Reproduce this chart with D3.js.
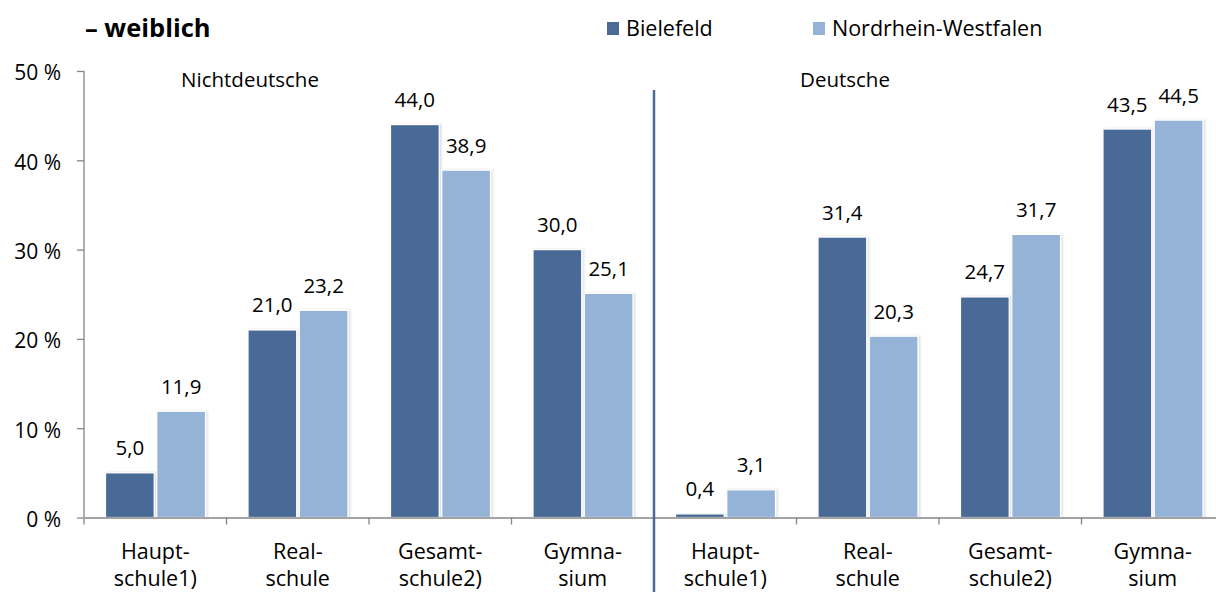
<!DOCTYPE html>
<html>
<head>
<meta charset="utf-8">
<script src="https://cdn.jsdelivr.net/npm/d3@7"></script>
<style>
  html, body { margin: 0; padding: 0; background: #fff; }
  svg { display: block; font-family: "Open Sans", "Noto Sans", sans-serif; }
</style>
</head>
<body>
<svg id="chart" width="1216" height="592"></svg>
<script>
// ---- data ----
const categories = [
  ["Haupt-", "schule1)"], ["Real-", "schule"], ["Gesamt-", "schule2)"], ["Gymna-", "sium"],
  ["Haupt-", "schule1)"], ["Real-", "schule"], ["Gesamt-", "schule2)"], ["Gymna-", "sium"]
];
const groups = ["Nichtdeutsche", "Deutsche"];
const seriesNames = ["Bielefeld", "Nordrhein-Westfalen"];
const bielefeld = [5.0, 21.0, 44.0, 30.0, 0.4, 31.4, 24.7, 43.5];
const nrw = [11.9, 23.2, 38.9, 25.1, 3.1, 20.3, 31.7, 44.5];
const yTicks = [0, 10, 20, 30, 40, 50];
const titleText = "– weiblich";

// ---- layout ----
const svg = d3.select("#chart");
const colors = ["#4A6B96", "#95B3D7"];
const x0 = d3.scaleBand().domain(d3.range(categories.length)).range([84, 1224]).padding(0);
const x1 = d3.scaleBand().domain([0, 1]).range([21.5, 121.5]).paddingInner(0.05);
const y = d3.scaleLinear().domain([0, 50]).range([517.5, 71]);

const defs = svg.append("defs");
const f = defs.append("filter").attr("id", "sh").attr("x", "-10%").attr("y", "-10%").attr("width", "130%").attr("height", "130%");
f.append("feDropShadow").attr("dx", 1.5).attr("dy", 0).attr("stdDeviation", 1.2).attr("flood-color", "#000").attr("flood-opacity", 0.15);

// title
svg.append("text").attr("x", 85).attr("y", 37).attr("font-size", 25.5).attr("font-weight", "bold").attr("fill", "#000").text(titleText);

// legend
const legX = [607, 813];
seriesNames.forEach((n, i) => {
  svg.append("rect").attr("x", legX[i]).attr("y", 22).attr("width", 12).attr("height", 13).attr("fill", colors[i]);
  svg.append("text").attr("x", legX[i] + 19).attr("y", 36).attr("font-size", 21.5).attr("fill", "#000").text(n);
});

// y axis
const yAxis = d3.axisLeft(y).tickValues(yTicks).tickSize(7).tickFormat(d => d + " %");
const gy = svg.append("g").attr("transform", "translate(84,0)").call(yAxis);
gy.select(".domain").attr("stroke", "#868686").attr("stroke-width", 1.3).attr("d", `M0,${y(50)}V${y(0)}`);
gy.selectAll(".tick line").attr("stroke", "#868686").attr("stroke-width", 1.3);
gy.selectAll(".tick text").attr("font-size", 21).attr("fill", "#000").attr("font-family", "Open Sans").attr("x", -23).attr("dy", "0.42em");

// bars
const series = [bielefeld, nrw];
const bars = svg.append("g");
categories.forEach((c, i) => {
  series.forEach((s, j) => {
    const bx = x0(i) + x1(j);
    bars.append("rect")
      .attr("x", bx).attr("y", y(s[i]))
      .attr("width", x1.bandwidth()).attr("height", y(0) - y(s[i]))
      .attr("fill", colors[j]).attr("stroke", "#fff").attr("stroke-width", 1.2)
      .attr("filter", "url(#sh)");
    svg.append("text")
      .attr("x", bx + x1.bandwidth() / 2).attr("y", y(s[i]) - 17.5)
      .attr("text-anchor", "middle").attr("font-size", 20.5).attr("fill", "#000")
      .text(d3.format(".1f")(s[i]).replace(".", ","));
  });
});

// x axis
const xAxis = d3.axisBottom(x0).tickSize(0).tickFormat("");
const gx = svg.append("g").attr("transform", `translate(0,${y(0)})`).call(xAxis);
gx.select(".domain").attr("stroke", "#868686").attr("stroke-width", 1.3);
categories.forEach((c, i) => {
  svg.append("line").attr("x1", x0(i)).attr("x2", x0(i)).attr("y1", y(0)).attr("y2", y(0) + 7)
    .attr("stroke", "#868686").attr("stroke-width", 1.3);
  const cx = x0(i) + x0.bandwidth() / 2;
  const t = svg.append("text").attr("text-anchor", "middle").attr("font-size", 21.5).attr("fill", "#000");
  t.append("tspan").attr("x", cx).attr("y", 559).text(c[0]);
  t.append("tspan").attr("x", cx).attr("y", 586).text(c[1]);
});

// group separator and labels
const sepX = x0(4);
svg.append("line").attr("x1", sepX).attr("x2", sepX).attr("y1", 90).attr("y2", 592)
  .attr("stroke", "#4A6B96").attr("stroke-width", 2.5);
const groupCenters = [250, 845];
groups.forEach((g, i) => {
  svg.append("text").attr("x", groupCenters[i]).attr("y", 87).attr("text-anchor", "middle")
    .attr("font-size", 20.5).attr("fill", "#000").text(g);
});
</script>
</body>
</html>
